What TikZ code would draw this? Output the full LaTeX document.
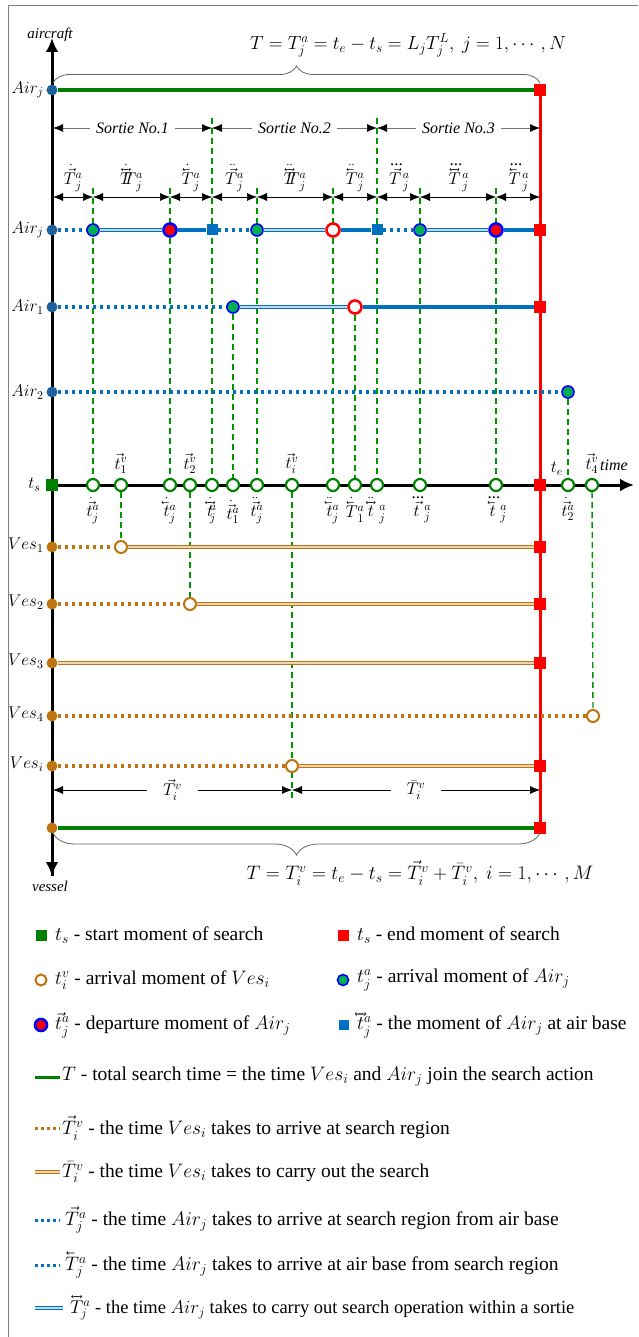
\RequirePackage{fix-cm}
\documentclass[tikz,border=0pt]{standalone}
\usepackage{amsmath}
\usepackage{fontspec}
\setmainfont{Liberation Serif}
\newfontfamily\legfont{Liberation Serif}
\usepackage{tikz}
\usetikzlibrary{arrows.meta, decorations.pathreplacing, backgrounds, calc}

\definecolor{airblue}{RGB}{0,112,192}
\definecolor{dotblue}{RGB}{28,96,156}
\definecolor{ringblue}{RGB}{0,0,255}
\definecolor{arrgreen}{RGB}{0,176,80}
\definecolor{topgreen}{RGB}{0,128,0}
\definecolor{guidegreen}{RGB}{0,150,0}
\definecolor{vesbrown}{RGB}{192,116,16}
\definecolor{endred}{RGB}{255,0,0}

% small left and two-way arrows over a letter, plain dots on top
\DeclareSymbolFont{oldops}{OT1}{cmr}{m}{n}
\DeclareMathAccent{\onedot}{\mathalpha}{oldops}{"5F}
\DeclareMathAccent{\twodot}{\mathalpha}{oldops}{"7F}
\newcommand{\cev}[1]{\rlap{\reflectbox{$\vec{\phantom{#1}}$}}#1}
\newcommand{\bivec}[1]{\rlap{$\vec{\phantom{#1}}$}\rlap{\reflectbox{$\vec{\phantom{#1}}$}}#1}

\begin{document}
\begin{tikzpicture}[
        x=1pt, y=-1pt,
        font=\fontsize{17}{19}\selectfont,
        startdot/.style={circle, fill=dotblue, minimum size=11pt, inner sep=0pt},
        vesdot/.style={circle, fill=vesbrown, minimum size=11pt, inner sep=0pt},
        arrive/.style={circle, draw=ringblue, line width=1.6pt, fill=arrgreen, minimum size=12pt, inner sep=0pt},
        depart/.style={circle, draw=ringblue, line width=2.6pt, fill=endred, minimum size=13pt, inner sep=0pt},
        retn/.style={circle, draw=endred, line width=2.6pt, fill=white, minimum size=13pt, inner sep=0pt},
        basesq/.style={rectangle, fill=airblue, minimum size=11pt, inner sep=0pt},
        endsq/.style={rectangle, fill=endred, minimum size=12pt, inner sep=0pt},
        startsq/.style={rectangle, fill=topgreen, minimum size=12pt, inner sep=0pt},
        moment/.style={circle, draw=topgreen, line width=2.2pt, fill=white, minimum size=12pt, inner sep=0pt},
        vesarr/.style={circle, draw=vesbrown, line width=2pt, fill=white, minimum size=12pt, inner sep=0pt},
        airdot/.style={airblue, line width=3.5pt, dash pattern=on 3.5pt off 3.5pt},
        airline/.style={airblue, line width=3.5pt},
        airsearch/.style={draw=airblue, double=airblue!25, double distance=1.6pt, line width=1pt},
        vesline/.style={vesbrown, line width=3.5pt, dash pattern=on 3.5pt off 3.5pt},
        vessearch/.style={draw=vesbrown, double=vesbrown!30, double distance=2pt, line width=1pt},
        total/.style={topgreen, line width=4.5pt},
        endline/.style={endred, line width=3pt},
        mainaxis/.style={line width=3pt, arrows={-Latex[length=14pt,width=13pt]}},
        guide/.style={guidegreen, line width=1.4pt, dash pattern=on 6pt off 4pt},
        dim/.style={{Latex[length=10pt,width=8pt]}-{Latex[length=10pt,width=8pt]}, line width=0.5pt},
        sortie/.style={{Latex[length=10pt,width=8pt,black]}-{Latex[length=10pt,width=8pt,black]}, draw=black!55, line width=0.7pt},
        brace/.style={decorate, draw=black!60, line width=0.8pt},
        itlabel/.style={font=\legfont\itshape\fontsize{16}{18}\selectfont},
        legtext/.style={anchor=west, inner sep=0pt, font=\legfont\fontsize{19.5}{21}\selectfont}
    ]
    \useasboundingbox (0,0) rectangle (638,1337);
    \draw[black!50, line width=1pt] (8,1337) -- (8,6) -- (638,6);

    % axes
    \coordinate (axtop) at (52,38);
    \coordinate (axbot) at (52,876);
    \coordinate (tend) at (634,485);
    \node[itlabel, font=\legfont\itshape\fontsize{15}{17}\selectfont] (lair) at (50,35) {aircraft};
    \node[itlabel, font=\legfont\itshape\fontsize{15}{17}\selectfont] (lves) at (50,886) {vessel};
    \node[startsq] (ts) at (52,485) {};
    \node[anchor=east] (lts) at (44,485) {$t_s$};
    \node[endsq] (te) at (540,485) {};
    \node (lte) at (557,469) {$t_e$};
    \node[itlabel] (ltime) at (614,465) {time};

    % total time of aircraft
    \node[startdot] (topS) at (52,90) {};
    \node[endsq] (topE) at (540,90) {};
    \node[anchor=east] at (47,90) {$Air_j$};
    \coordinate (brA) at (53,83);
    \coordinate (brB) at (540,83);
    \node[font=\fontsize{19}{21}\selectfont] (ftop) at (408,45) {$T = T_j^a = t_e - t_s = L_jT_j^L,\ j = 1,\cdots,N$};

    % sorties
    \coordinate (s0) at (53,128);
    \coordinate (s1) at (212,128);
    \coordinate (s2) at (377,128);
    \coordinate (s3) at (540,128);

    % sortie parts
    \coordinate (d0) at (53,197);
    \coordinate (d1) at (93,197);
    \coordinate (d2) at (170,197);
    \coordinate (d3) at (212,197);
    \coordinate (d4) at (257,197);
    \coordinate (d5) at (333,197);
    \coordinate (d6) at (377,197);
    \coordinate (d7) at (420,197);
    \coordinate (d8) at (496,197);
    \coordinate (d9) at (540,197);

    % Air_j
    \node[startdot] (jS) at (52,230) {};
    \node[anchor=east] at (47,230) {$Air_j$};
    \node[arrive] (j1) at (93,230) {};
    \node[depart] (j2) at (170,230) {};
    \node[basesq] (j3) at (212,230) {};
    \node[arrive] (j4) at (257,230) {};
    \node[retn] (j5) at (333,230) {};
    \node[basesq] (j6) at (377,230) {};
    \node[arrive] (j7) at (420,230) {};
    \node[depart] (j8) at (496,230) {};
    \node[endsq] (jE) at (540,230) {};

    % Air_1
    \node[startdot] (oS) at (52,307) {};
    \node[anchor=east] at (47,307) {$Air_1$};
    \node[arrive] (o1) at (233,307) {};
    \node[retn] (o2) at (355,307) {};
    \node[endsq] (oE) at (540,307) {};

    % Air_2
    \node[startdot] (wS) at (52,392) {};
    \node[anchor=east] at (47,392) {$Air_2$};
    \node[arrive] (w1) at (568,392) {};

    % moments on the time axis
    \node[moment, label={[label distance=2pt]below:$\onedot{\vec{t}}{}_j^a$}] (m1) at (93,485) {};
    \node[moment, label={[label distance=1pt]above:$\vec{t}_1^v$}] (m2) at (121,485) {};
    \node[moment, label={[label distance=2pt]below:$\onedot{\cev{t}}{}_j^a$}] (m3) at (170,485) {};
    \node[moment, label={[label distance=1pt]above:$\vec{t}_2^v$}] (m4) at (190,485) {};
    \node[moment, label={[label distance=2pt]below:$\onedot{\bivec{t}}{}_j^a$}] (m5) at (212,485) {};
    \node[moment, label={[label distance=5pt]below:$\onedot{\vec{t}}{}_1^a$}] (m6) at (233,485) {};
    \node[moment, label={[label distance=2pt]below:$\twodot{\vec{t}}{}_j^a$}] (m7) at (257,485) {};
    \node[moment, label={[label distance=1pt]above:$\vec{t}_i^v$}] (m8) at (292,485) {};
    \node[moment, label={[label distance=2pt]below:$\twodot{\cev{t}}{}_j^a$}] (m9) at (333,485) {};
    \node[moment, label={[label distance=2pt]below:$\onedot{\cev{T}}{}_1^a$}] (m10) at (355,485) {};
    \node[moment, label={[label distance=2pt]below:$\twodot{\bivec{t}}{}_j^a$}] (m11) at (377,485) {};
    \node[moment, label={[label distance=2pt]below:$\dddot{\vec{t}}{}_j^a$}] (m12) at (420,485) {};
    \node[moment, label={[label distance=2pt]below:$\dddot{\cev{t}}{}_j^a$}] (m13) at (496,485) {};
    \node[moment, label={[label distance=2pt]below:$\onedot{\vec{t}}{}_2^a$}] (m14) at (568,485) {};
    \node[moment, label={[label distance=1pt]above:$\vec{t}_4^v$}] (m15) at (592,485) {};

    % vessels
    \node[vesdot] (v1S) at (52,547) {};
    \node[anchor=east] at (47,545) {$Ves_1$};
    \node[vesarr] (v1a) at (121,547) {};
    \node[endsq] (v1E) at (540,547) {};
    \node[vesdot] (v2S) at (52,604) {};
    \node[anchor=east] at (47,602) {$Ves_2$};
    \node[vesarr] (v2a) at (190,604) {};
    \node[endsq] (v2E) at (540,604) {};
    \node[vesdot] (v3S) at (52,663) {};
    \node[anchor=east] at (47,661) {$Ves_3$};
    \node[endsq] (v3E) at (540,663) {};
    \node[vesdot] (v4S) at (52,716) {};
    \node[anchor=east] at (47,714) {$Ves_4$};
    \node[vesarr] (v4a) at (593,716) {};
    \node[vesdot] (viS) at (52,766) {};
    \node[anchor=east] at (47,764) {$Ves_i$};
    \node[vesarr] (via) at (292,766) {};
    \node[endsq] (viE) at (540,766) {};
    \coordinate (e0) at (53,790);
    \coordinate (e1) at (292,790);
    \coordinate (e2) at (540,790);
    \node[vesdot] (bS) at (52,828) {};
    \node[endsq] (bE) at (540,828) {};
    \coordinate (brC) at (540,833);
    \coordinate (brD) at (53,833);
    \node[font=\fontsize{19.5}{21}\selectfont] (fbot) at (420,873) {$T = T_i^v = t_e - t_s = \vec{T}_i^v + \bar{T}_i^v,\ i = 1,\cdots,M$};

    \begin{scope}[on background layer]
    % guides
    \draw[guide] ([yshift=10pt]s1) -- (m5);
    \draw[guide] ([yshift=10pt]s2) -- (m11);
    \draw[guide] ([yshift=9pt]d1) -- (m1);
    \draw[guide] ([yshift=9pt]d2) -- (m3);
    \draw[guide] ([yshift=9pt]d4) -- (m7);
    \draw[guide] ([yshift=9pt]d5) -- (m9);
    \draw[guide] ([yshift=9pt]d7) -- (m12);
    \draw[guide] ([yshift=9pt]d8) -- (m13);
    \draw[guide] (o1) -- (m6);
    \draw[guide] (o2) -- (m10);
    \draw[guide] (w1) -- (m14);
    \draw[guide] (m2) -- (v1a);
    \draw[guide] (m4) -- (v2a);
    \draw[guide] (m8) -- ([yshift=-8pt]e1);
    \draw[guide] (m15) -- (v4a);

    % axes and end of search
    \draw[mainaxis] (axbot) -- (axtop);
    \draw[mainaxis] (ts) -- (axbot);
    \draw[mainaxis] (ts) -- (tend);
    \draw[endline] (topE) -- (bE);

    % aircraft
    \draw[total] (topS) -- (topE);
    \draw[airdot] (jS) -- (j1);
    \draw[airsearch] (j1) -- (j2);
    \draw[airline] (j2) -- (j3);
    \draw[airdot] (j3) -- (j4);
    \draw[airsearch] (j4) -- (j5);
    \draw[airline] (j5) -- (j6);
    \draw[airdot] (j6) -- (j7);
    \draw[airsearch] (j7) -- (j8);
    \draw[airline] (j8) -- (jE);
    \draw[airdot] (oS) -- (o1);
    \draw[airsearch] (o1) -- (o2);
    \draw[airline] (o2) -- (oE);
    \draw[airdot] (wS) -- (w1);

    % vessels
    \draw[vesline] (v1S) -- (v1a);
    \draw[vessearch] (v1a) -- (v1E);
    \draw[vesline] (v2S) -- (v2a);
    \draw[vessearch] (v2a) -- (v2E);
    \draw[vessearch] (v3S) -- (v3E);
    \draw[vesline] (v4S) -- (v4a);
    \draw[vesline] (viS) -- (via);
    \draw[vessearch] (via) -- (viE);
    \draw[total] (bS) -- (bE);
    \end{scope}

    % braces
    \draw[brace, decoration={brace, amplitude=17pt}] (brA) -- (brB);
    \draw[brace, decoration={brace, amplitude=22pt}] (brC) -- (brD);

    % sortie arrows
    \draw[sortie] (s0) -- node[fill=white, inner xsep=6pt, itlabel] {Sortie No.1} (s1);
    \draw[sortie] (s1) -- node[fill=white, inner xsep=6pt, itlabel] {Sortie No.2} (s2);
    \draw[sortie] (s2) -- node[fill=white, inner xsep=6pt, itlabel] {Sortie No.3} (s3);

    % parts of sorties
    \draw[dim] (d0) -- node[above=2pt] {$\onedot{\vec{T}}{}_j^a$} (d1);
    \draw[dim] (d1) -- node[above=2pt] {$\onedot{\bivec{T}}{}_j^a$} (d2);
    \draw[dim] (d2) -- node[above=2pt] {$\onedot{\cev{T}}{}_j^a$} (d3);
    \draw[dim] (d3) -- node[above=2pt] {$\twodot{\vec{T}}{}_j^a$} (d4);
    \draw[dim] (d4) -- node[above=2pt] {$\twodot{\bivec{T}}{}_j^a$} (d5);
    \draw[dim] (d5) -- node[above=2pt] {$\twodot{\cev{T}}{}_j^a$} (d6);
    \draw[dim] (d6) -- node[above=2pt] {$\dddot{\vec{T}}{}_j^a$} (d7);
    \draw[dim] (d7) -- node[above=2pt] {$\dddot{\bivec{T}}{}_j^a$} (d8);
    \draw[dim] (d8) -- node[above=2pt] {$\dddot{\cev{T}}{}_j^a$} (d9);

    % vessel parts
    \draw[dim] (e0) -- node[fill=white, inner xsep=16pt, inner ysep=1pt] {$\vec{T}_i^v$} (e1);
    \draw[dim] (e1) -- node[fill=white, inner xsep=16pt, inner ysep=1pt] {$\bar{T}_i^v$} (e2);

    % legend
    \node[startsq, minimum size=11pt] (kS) at (41,935) {};
    \node[legtext] at (55,935) {$t_s$ - start moment of search};
    \node[endsq, minimum size=11pt] (kE) at (343,935) {};
    \node[legtext] at (357,935) {$t_s$ - end moment of search};
    \node[vesarr, minimum size=11pt] (kV) at (41,980) {};
    \node[legtext] at (55,980) {$t_i^v$ - arrival moment of $Ves_i$};
    \node[arrive, minimum size=11pt] (kA) at (343,980) {};
    \node[legtext] at (357,980) {$t_j^a$ - arrival moment of $Air_j$};
    \node[depart, minimum size=12pt] (kD) at (41,1025) {};
    \node[legtext] at (55,1025) {$\vec{t}_j^a$ - departure moment of $Air_j$};
    \node[basesq, minimum size=10pt] (kB) at (344,1025) {};
    \node[legtext] at (357,1025) {$\bivec{t}_j^a$ - the moment of $Air_j$ at air base};

    \coordinate (k1a) at (35,1077);
    \coordinate (k1b) at (60,1077);
    \draw[topgreen, line width=3pt] (k1a) -- (k1b);
    \node[legtext] at (62,1077) {$T$ - total search time = the time $Ves_i$ and $Air_j$ join the search action};
    \coordinate (k2a) at (35,1128);
    \coordinate (k2b) at (60,1128);
    \draw[vesbrown, line width=3pt, dash pattern=on 3pt off 3pt] (k2a) -- (k2b);
    \node[legtext] at (62,1128) {$\vec{T}_i^v$ - the time $Ves_i$ takes to arrive at search region};
    \coordinate (k3a) at (35,1172);
    \coordinate (k3b) at (60,1172);
    \draw[vessearch] (k3a) -- (k3b);
    \node[legtext] at (62,1172) {$\bar{T}_i^v$ - the time $Ves_i$ takes to carry out the search};
    \coordinate (k4a) at (35,1220);
    \coordinate (k4b) at (60,1220);
    \draw[airblue, line width=3pt, dash pattern=on 3pt off 3pt] (k4a) -- (k4b);
    \node[legtext] at (65,1220) {$\vec{T}_j^a$ - the time $Air_j$ takes to arrive at search region from air base};
    \coordinate (k5a) at (35,1265);
    \coordinate (k5b) at (60,1265);
    \draw[airblue, line width=3pt, dash pattern=on 3pt off 3pt] (k5a) -- (k5b);
    \node[legtext] at (65,1265) {$\cev{T}_j^a$ - the time $Air_j$ takes to arrive at air base from search region};
    \coordinate (k6a) at (35,1308);
    \coordinate (k6b) at (63,1308);
    \draw[airsearch] (k6a) -- (k6b);
    \node[legtext, font=\legfont\fontsize{18.5}{20}\selectfont] at (70,1308) {$\bivec{T}_j^a$ - the time $Air_j$ takes to carry out search operation within a sortie};
\end{tikzpicture}
\end{document}
